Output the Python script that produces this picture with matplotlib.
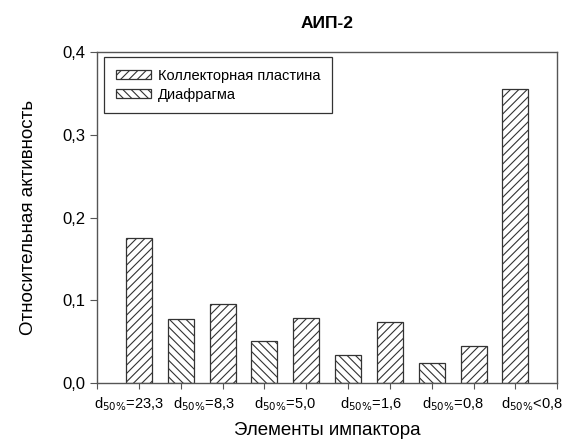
import matplotlib
matplotlib.use("Agg")
import matplotlib.pyplot as plt
import numpy as np

plt.rcParams['font.family'] = ['Liberation Sans', 'DejaVu Sans']
plt.rcParams['hatch.linewidth'] = 0.8
plt.rcParams['hatch.color'] = '#333333'

# Bar positions (impactor elements) and values
collector_pos = [1, 3, 5, 7, 9, 10]
collector_val = [0.175, 0.0955, 0.079, 0.074, 0.045, 0.355]
diaphragm_pos = [2, 4, 6, 8]
diaphragm_val = [0.077, 0.051, 0.034, 0.024]

# Group labels and where they sit on the x axis
group_labels = ["d$_{50\\%}$=23,3", "d$_{50\\%}$=8,3", "d$_{50\\%}$=5,0",
                "d$_{50\\%}$=1,6", "d$_{50\\%}$=0,8", "d$_{50\\%}$<0,8"]
group_pos = [0.75, 2.55, 4.5, 6.55, 8.5, 10.4]

fig = plt.figure(figsize=(5.68, 4.41), dpi=100)
ax = fig.add_axes([0.171, 0.1315, 0.81, 0.7505])

ax.bar(collector_pos, collector_val, width=0.62, color='white',
       edgecolor='#333333', linewidth=0.9, hatch='////',
       label="Коллекторная пластина")
ax.bar(diaphragm_pos, diaphragm_val, width=0.62, color='white',
       edgecolor='#333333', linewidth=0.9, hatch='\\\\\\\\',
       label="Диафрагма")

ax.set_xlim(0, 11)
ax.set_ylim(0, 0.4)

# major ticks on every integer (no labels), group labels as minor ticks
ax.set_xticks(np.arange(0, 12))
ax.set_xticklabels([])
ax.set_xticks(group_pos, minor=True)
ax.set_xticklabels(group_labels, minor=True, fontsize=10.5)
ax.tick_params(axis='x', which='minor', length=0, pad=9)
ax.tick_params(axis='x', which='major', length=4, direction='out', color='#555555')

ax.set_yticks([0, 0.1, 0.2, 0.3, 0.4])
ax.set_yticklabels(["0,0", "0,1", "0,2", "0,3", "0,4"], fontsize=12)
ax.tick_params(axis='y', length=5, direction='out', color='#555555')

for s in ax.spines.values():
    s.set_color('#555555')
    s.set_linewidth(1.0)

ax.set_title("АИП-2", fontsize=12.5, fontweight='bold', pad=17)
ax.set_xlabel("Элементы импактора", fontsize=13.5, labelpad=6)
ax.set_ylabel("Относительная активность", fontsize=13.5, labelpad=18)

leg = ax.legend(loc='upper left', bbox_to_anchor=(0.015, 0.985), fontsize=10.5,
                fancybox=False, framealpha=1, edgecolor='#333333',
                handlelength=2.4, handleheight=0.55, handletextpad=0.5,
                borderpad=0.8, labelspacing=0.35, borderaxespad=0.0)
leg.get_frame().set_linewidth(0.9)

fig.savefig("out.png", dpi=100)
